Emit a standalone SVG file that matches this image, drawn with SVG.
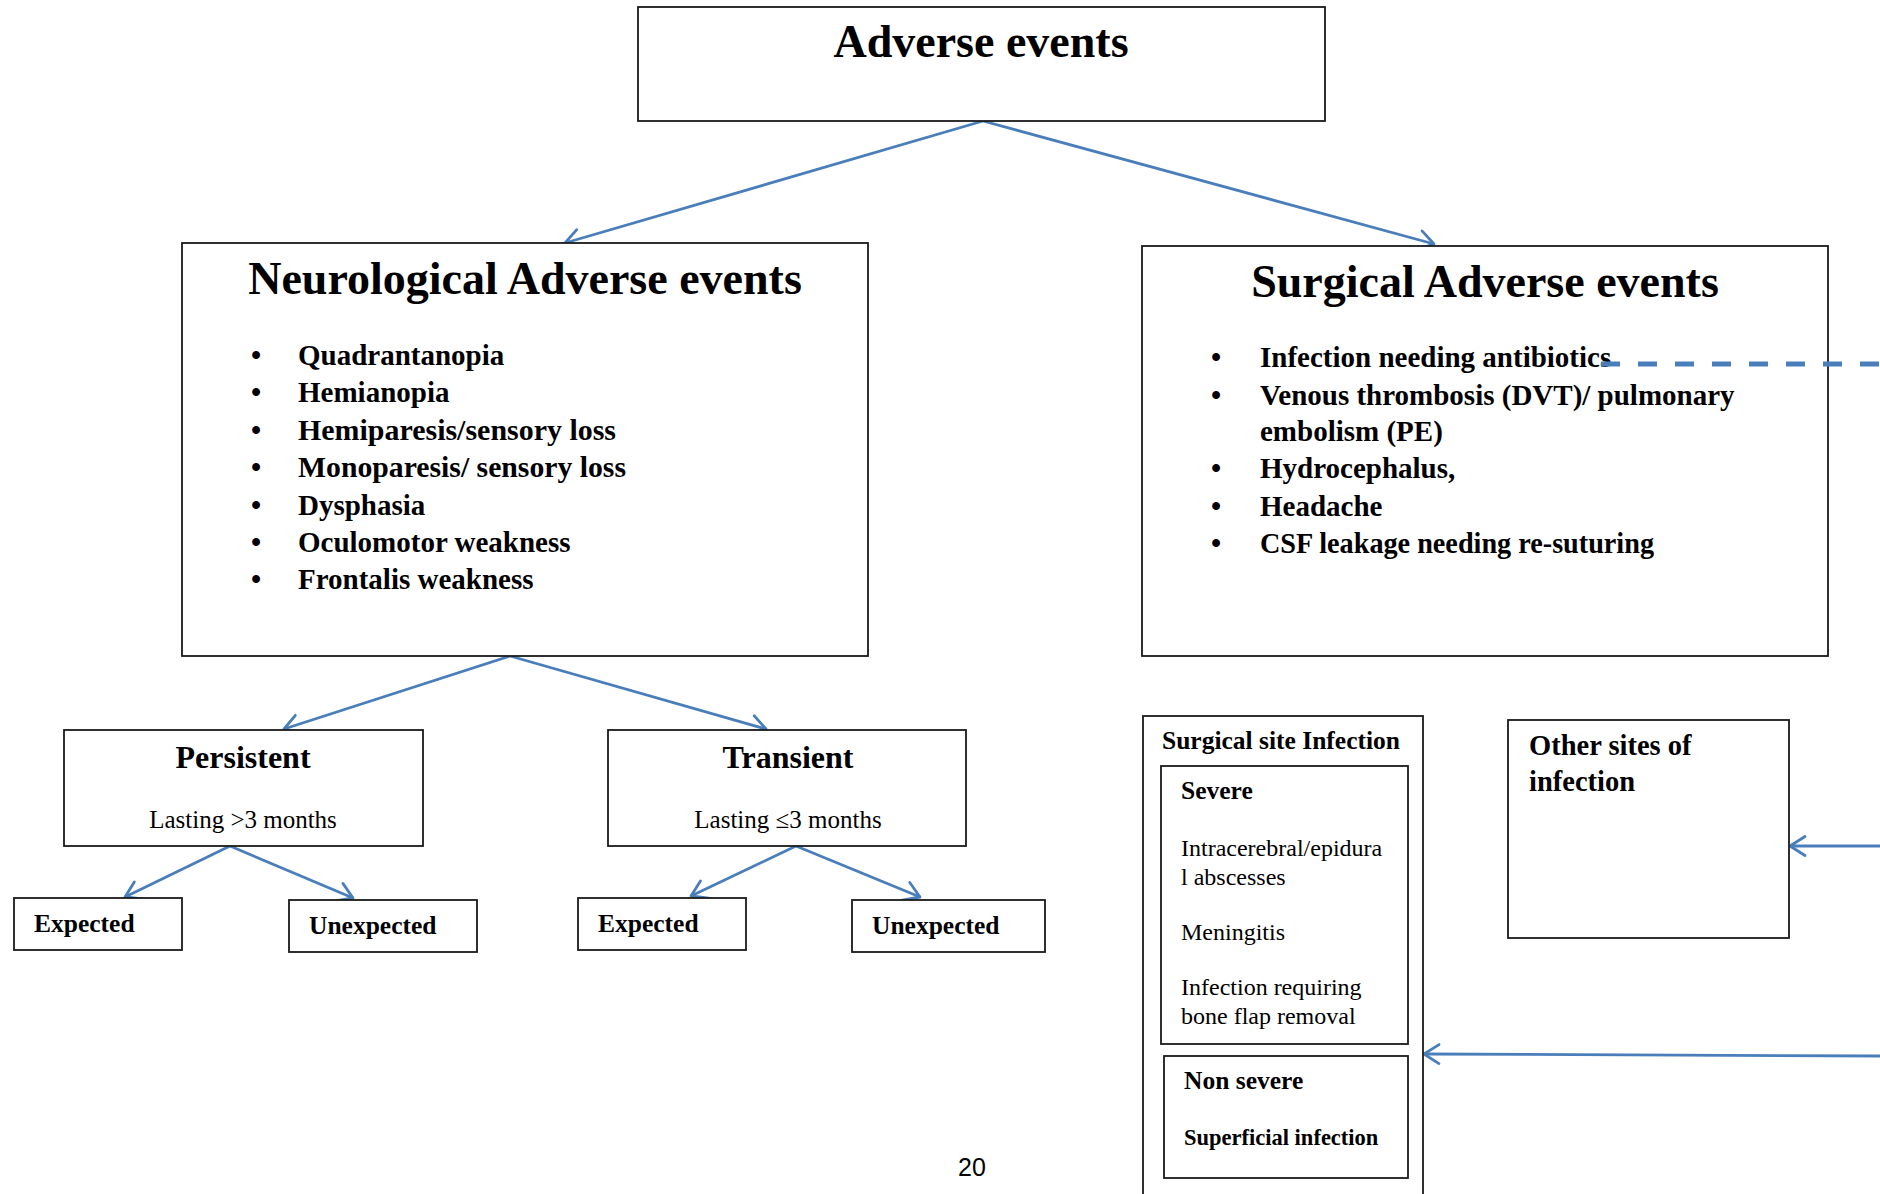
<svg xmlns="http://www.w3.org/2000/svg" width="1880" height="1194" viewBox="0 0 1880 1194">
<style>
.box{fill:#fff;stroke:#1a1a1a;stroke-width:1.8}
.t{font-family:"Liberation Serif","DejaVu Serif",serif;fill:#000}
.b{font-weight:bold}
.title{font-size:46px;font-weight:bold}
.li{font-size:29px;font-weight:bold}
.sub{font-size:32px;font-weight:bold}
.reg{font-size:25px}
.sm{font-size:25.5px;font-weight:bold}
.inner{font-size:24px}
.conn{fill:none;stroke:#4a7ebb;stroke-width:2.8}
.dash{fill:none;stroke:#4a7ebb;stroke-width:5;stroke-dasharray:19 18}
.pg{font-family:"Liberation Sans","DejaVu Sans",sans-serif;font-size:25px;fill:#000}
</style>
<defs>
<marker id="arr" markerUnits="userSpaceOnUse" viewBox="-18 -12 21 24" markerWidth="21" markerHeight="24" refX="0" refY="0" orient="auto" overflow="visible">
<path d="M-15,-9.5 L0,0 L-15,9.5" fill="none" stroke="#4a7ebb" stroke-width="2.8" stroke-linecap="round" stroke-linejoin="round"/>
</marker>
</defs>
<rect width="1880" height="1194" fill="#fff"/>

<g id="connectors">
<path class="conn" d="M983,121 L565,243" marker-end="url(#arr)"/>
<path class="conn" d="M983,121 L1434,244" marker-end="url(#arr)"/>
<path class="conn" d="M510,656 L284,729" marker-end="url(#arr)"/>
<path class="conn" d="M510,656 L766,729" marker-end="url(#arr)"/>
<path class="conn" d="M230,846 L125,897" marker-end="url(#arr)"/>
<path class="conn" d="M230,846 L353,898" marker-end="url(#arr)"/>
<path class="conn" d="M796,846 L691,896" marker-end="url(#arr)"/>
<path class="conn" d="M796,846 L920,897" marker-end="url(#arr)"/>
<path class="conn" d="M1880,846 L1790,846" marker-end="url(#arr)"/>
<path class="conn" d="M1880,1056 L1424,1054" marker-end="url(#arr)"/>
</g>

<g id="adverse-events">
<rect class="box" x="638" y="7" width="687" height="114"/>
<text class="t title" x="981" y="57" text-anchor="middle">Adverse events</text>
</g>

<g id="neurological">
<rect class="box" x="182" y="243" width="686" height="413"/>
<text class="t title" x="525" y="294" text-anchor="middle">Neurological Adverse events</text>
<g class="t li">
<text x="256" y="365" text-anchor="middle">•</text><text x="298" y="365">Quadrantanopia</text>
<text x="256" y="402" text-anchor="middle">•</text><text x="298" y="402">Hemianopia</text>
<text x="256" y="440" text-anchor="middle">•</text><text x="298" y="440" textLength="318" lengthAdjust="spacingAndGlyphs">Hemiparesis/sensory loss</text>
<text x="256" y="477" text-anchor="middle">•</text><text x="298" y="477" textLength="328" lengthAdjust="spacingAndGlyphs">Monoparesis/ sensory loss</text>
<text x="256" y="515" text-anchor="middle">•</text><text x="298" y="515">Dysphasia</text>
<text x="256" y="552" text-anchor="middle">•</text><text x="298" y="552">Oculomotor weakness</text>
<text x="256" y="589" text-anchor="middle">•</text><text x="298" y="589">Frontalis weakness</text>
</g>
</g>

<g id="surgical">
<rect class="box" x="1142" y="246" width="686" height="410"/>
<text class="t title" x="1485" y="297" text-anchor="middle">Surgical Adverse events</text>
<g class="t li">
<text x="1216" y="367" text-anchor="middle">•</text><text x="1260" y="367">Infection needing antibiotics</text>
<text x="1216" y="405" text-anchor="middle">•</text><text x="1260" y="405">Venous thrombosis (DVT)/ pulmonary</text>
<text x="1260" y="441">embolism (PE)</text>
<text x="1216" y="478" text-anchor="middle">•</text><text x="1260" y="478">Hydrocephalus,</text>
<text x="1216" y="516" text-anchor="middle">•</text><text x="1260" y="516">Headache</text>
<text x="1216" y="553" text-anchor="middle">•</text><text x="1260" y="553" textLength="394" lengthAdjust="spacingAndGlyphs">CSF leakage needing re-suturing</text>
</g>
</g>

<g id="dashed-link">
<path class="dash" d="M1601,364 L1880,364"/>
</g>

<g id="persistent">
<rect class="box" x="64" y="730" width="359" height="116"/>
<text class="t sub" x="243" y="768" text-anchor="middle">Persistent</text>
<text class="t reg" x="243" y="828" text-anchor="middle">Lasting &gt;3 months</text>
</g>

<g id="transient">
<rect class="box" x="608" y="730" width="358" height="116"/>
<text class="t sub" x="788" y="768" text-anchor="middle">Transient</text>
<text class="t reg" x="788" y="828" text-anchor="middle">Lasting ≤3 months</text>
</g>

<g id="expected-1">
<rect class="box" x="14" y="898" width="168" height="52"/>
<text class="t sm" x="34" y="932">Expected</text>
</g>
<g id="unexpected-1">
<rect class="box" x="289" y="900" width="188" height="52"/>
<text class="t sm" x="309" y="934">Unexpected</text>
</g>
<g id="expected-2">
<rect class="box" x="578" y="898" width="168" height="52"/>
<text class="t sm" x="598" y="932">Expected</text>
</g>
<g id="unexpected-2">
<rect class="box" x="852" y="900" width="193" height="52"/>
<text class="t sm" x="872" y="934">Unexpected</text>
</g>

<g id="surgical-site-infection">
<rect class="box" x="1143" y="716" width="280" height="490"/>
<text class="t sm" x="1162" y="749">Surgical site Infection</text>
<g id="severe">
<rect class="box" x="1161" y="766" width="247" height="278"/>
<text class="t sm" x="1181" y="799">Severe</text>
<text class="t inner" x="1181" y="856">Intracerebral/epidura</text>
<text class="t inner" x="1181" y="885">l abscesses</text>
<text class="t inner" x="1181" y="940">Meningitis</text>
<text class="t inner" x="1181" y="995">Infection requiring</text>
<text class="t inner" x="1181" y="1024">bone flap removal</text>
</g>
<g id="non-severe">
<rect class="box" x="1164" y="1056" width="244" height="122"/>
<text class="t sm" x="1184" y="1089">Non severe</text>
<text class="t b" x="1184" y="1145" style="font-size:22.5px">Superficial infection</text>
</g>
</g>

<g id="other-sites">
<rect class="box" x="1508" y="720" width="281" height="218"/>
<text class="t b" x="1529" y="755" style="font-size:28.5px">Other sites of</text>
<text class="t b" x="1529" y="791" style="font-size:28.5px">infection</text>
</g>

<text class="pg" x="958" y="1176">20</text>
</svg>
